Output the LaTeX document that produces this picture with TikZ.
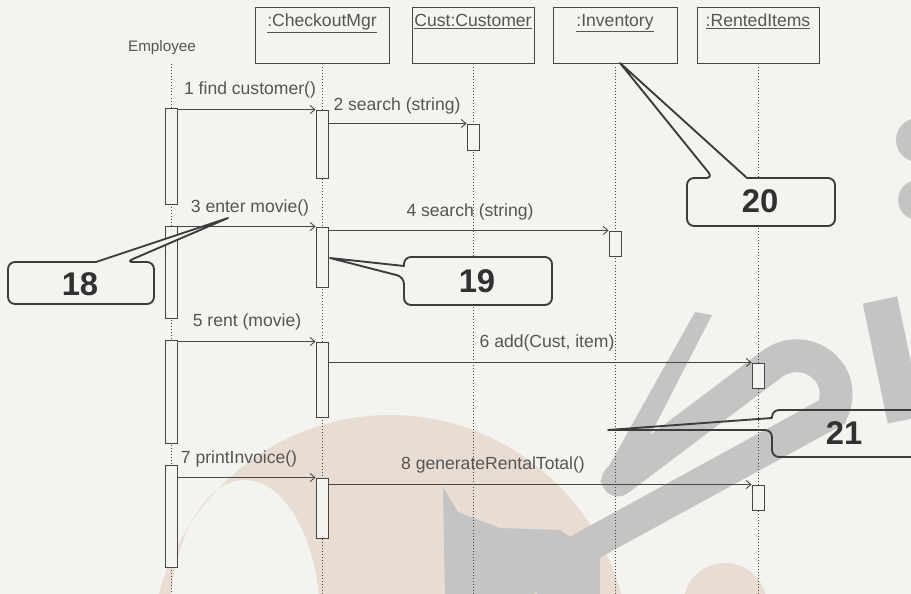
\documentclass[tikz,border=0pt]{standalone}
\usepackage{fontspec}
\setmainfont{Liberation Sans}
\usetikzlibrary{arrows.meta}
\definecolor{paper}{RGB}{243,243,240}
\definecolor{ink}{RGB}{70,70,70}
\definecolor{inktxt}{RGB}{85,85,85}
\definecolor{wmtan}{RGB}{233,221,211}
\definecolor{wmgray}{RGB}{196,196,196}
\begin{document}
\begin{tikzpicture}[x=0.03cm,y=-0.03cm,
  every node/.style={text=inktxt,font=\fontsize{15}{17}\selectfont},
  head/.style={draw=ink,line width=0.8pt,fill=paper,minimum height=1.68cm,inner sep=0},
  act/.style={draw=ink,line width=0.8pt,fill=paper,minimum width=0.36cm,inner sep=0},
  life/.style={ink,line width=0.6pt,dotted},
  msg/.style={ink,line width=0.75pt,-{Straight Barb[length=4pt,width=7pt]}},
  callout/.style={draw=ink!85!black,line width=1.6pt,line join=round},
  num/.style={text=ink!70!black,font=\fontsize{28}{28}\selectfont\bfseries}]
  \useasboundingbox (0,0) rectangle (911,594);
  \clip (0,0) rectangle (911,594);
  \fill[paper] (0,0) rectangle (911,594);
  \fill[wmtan,even odd rule] (390,660) ellipse [x radius=240,y radius=245] (245,620) ellipse [x radius=75,y radius=140];
  \fill[wmtan] (725,605) circle [radius=42];
  \begin{scope}[wmgray]
    \fill (695,312) -- (712,315) -- (622,490) -- (600,482) -- cycle;
    \draw[line width=28pt,line cap=round] (618,480) -- (772,364) .. controls (805,340) and (850,372) .. (832,412) -- (470,610);
    \draw[line width=30pt] (880,300) -- (905,420);
    \fill[even odd rule] (443,487) -- (458,512) -- (500,528) -- (560,530) -- (600,558) -- (600,600) -- (445,600) -- cycle (510,600) -- (522,563) -- (540,600) -- cycle;
    \fill (918,140) circle [radius=22] (918,200) circle [radius=20];
  \end{scope}
  \coordinate (bot) at (0,594);
  \node[font=\fontsize{13}{15}\selectfont] (emp) at (162,48) {Employee};
  \coordinate (empl) at (171,64);
  \draw[life] (empl) -- (empl |- bot);
  \foreach \n/\x/\w/\t in {cm/322/134/:CheckoutMgr,cu/473/122/Cust:Customer,inv/615/124/:Inventory,ri/758/122/:RentedItems}{
    \node[head,minimum width=\w*0.03cm] (\n) at (\x,35) {};
    \node[anchor=north] (\n-t) at ([yshift=-3pt]\n.north) {\underline{\t}};
    \draw[life] (\n.south) -- (\n.south |- bot);
  }
  \foreach \n/\x/\t/\b in {e1/171/108/204,c1/322/110/178,cu1/473/124/150,e2/171/226/318,c2/322/227/287,i1/615/231/256,
      e3/171/340/443,c3/322/342/417,r1/758/363/388,e4/171/465/567,c4/322/478/538,r2/758/485/510}
    \node[act,minimum height={(\b-\t)*0.03cm}] (\n) at (\x,{(\t+\b)/2}) {};
  \draw[msg] (e1.east |- c1.north) -- (c1.north west);
  \draw[msg] (c1.east |- cu1.north) -- (cu1.north west);
  \draw[msg] (e2.east |- c2.north) -- (c2.north west);
  \draw[msg] (c2.east |- i1.north) -- (i1.north west);
  \draw[msg] (e3.east |- c3.north) -- (c3.north west);
  \draw[msg] (c3.east |- r1.north) -- (r1.north west);
  \draw[msg] (e4.east |- c4.north) -- (c4.north west);
  \draw[msg] (c4.east |- r2.north) -- (r2.north west);
  \node (l1) at (250,90) {1 find customer()};
  \node (l2) at (397,106) {2 search (string)};
  \node (l3) at (250,208) {3 enter movie()};
  \node (l4) at (470,212) {4 search (string)};
  \node (l5) at (247,322) {5 rent (movie)};
  \node (l6) at (547,343) {6 add(Cust, item)};
  \node (l7) at (239,459) {7 printInvoice()};
  \node (l8) at (493,465) {8 generateRentalTotal()};
  \draw[callout,fill=paper] (228,218) -- (96,262) [rounded corners=6pt] -- (8,262) -- (8,304) -- (154,304) -- (154,262) -- (126,262) [sharp corners] -- cycle;
  \draw[callout,fill=paper] (330,258) -- (404,266) [rounded corners=6pt] -- (404,257) -- (552,257) -- (552,305) -- (404,305) -- (404,277) [sharp corners] -- cycle;
  \draw[callout,fill=paper] (620,63) -- (747,178) [rounded corners=6pt] -- (835,178) -- (835,226) -- (687,226) -- (687,178) -- (713,178) [sharp corners] -- cycle;
  \draw[callout] (608,430) -- (772,418) [rounded corners=6pt] -- (772,410) -- (918,410) -- (918,457) -- (772,457) -- (772,430) [sharp corners] -- cycle;
  \node[num] (n18) at (80,284) {18};
  \node[num] (n19) at (477,281) {19};
  \node[num] (n20) at (760,201) {20};
  \node[num] (n21) at (844,433) {21};
\end{tikzpicture}
\end{document}
